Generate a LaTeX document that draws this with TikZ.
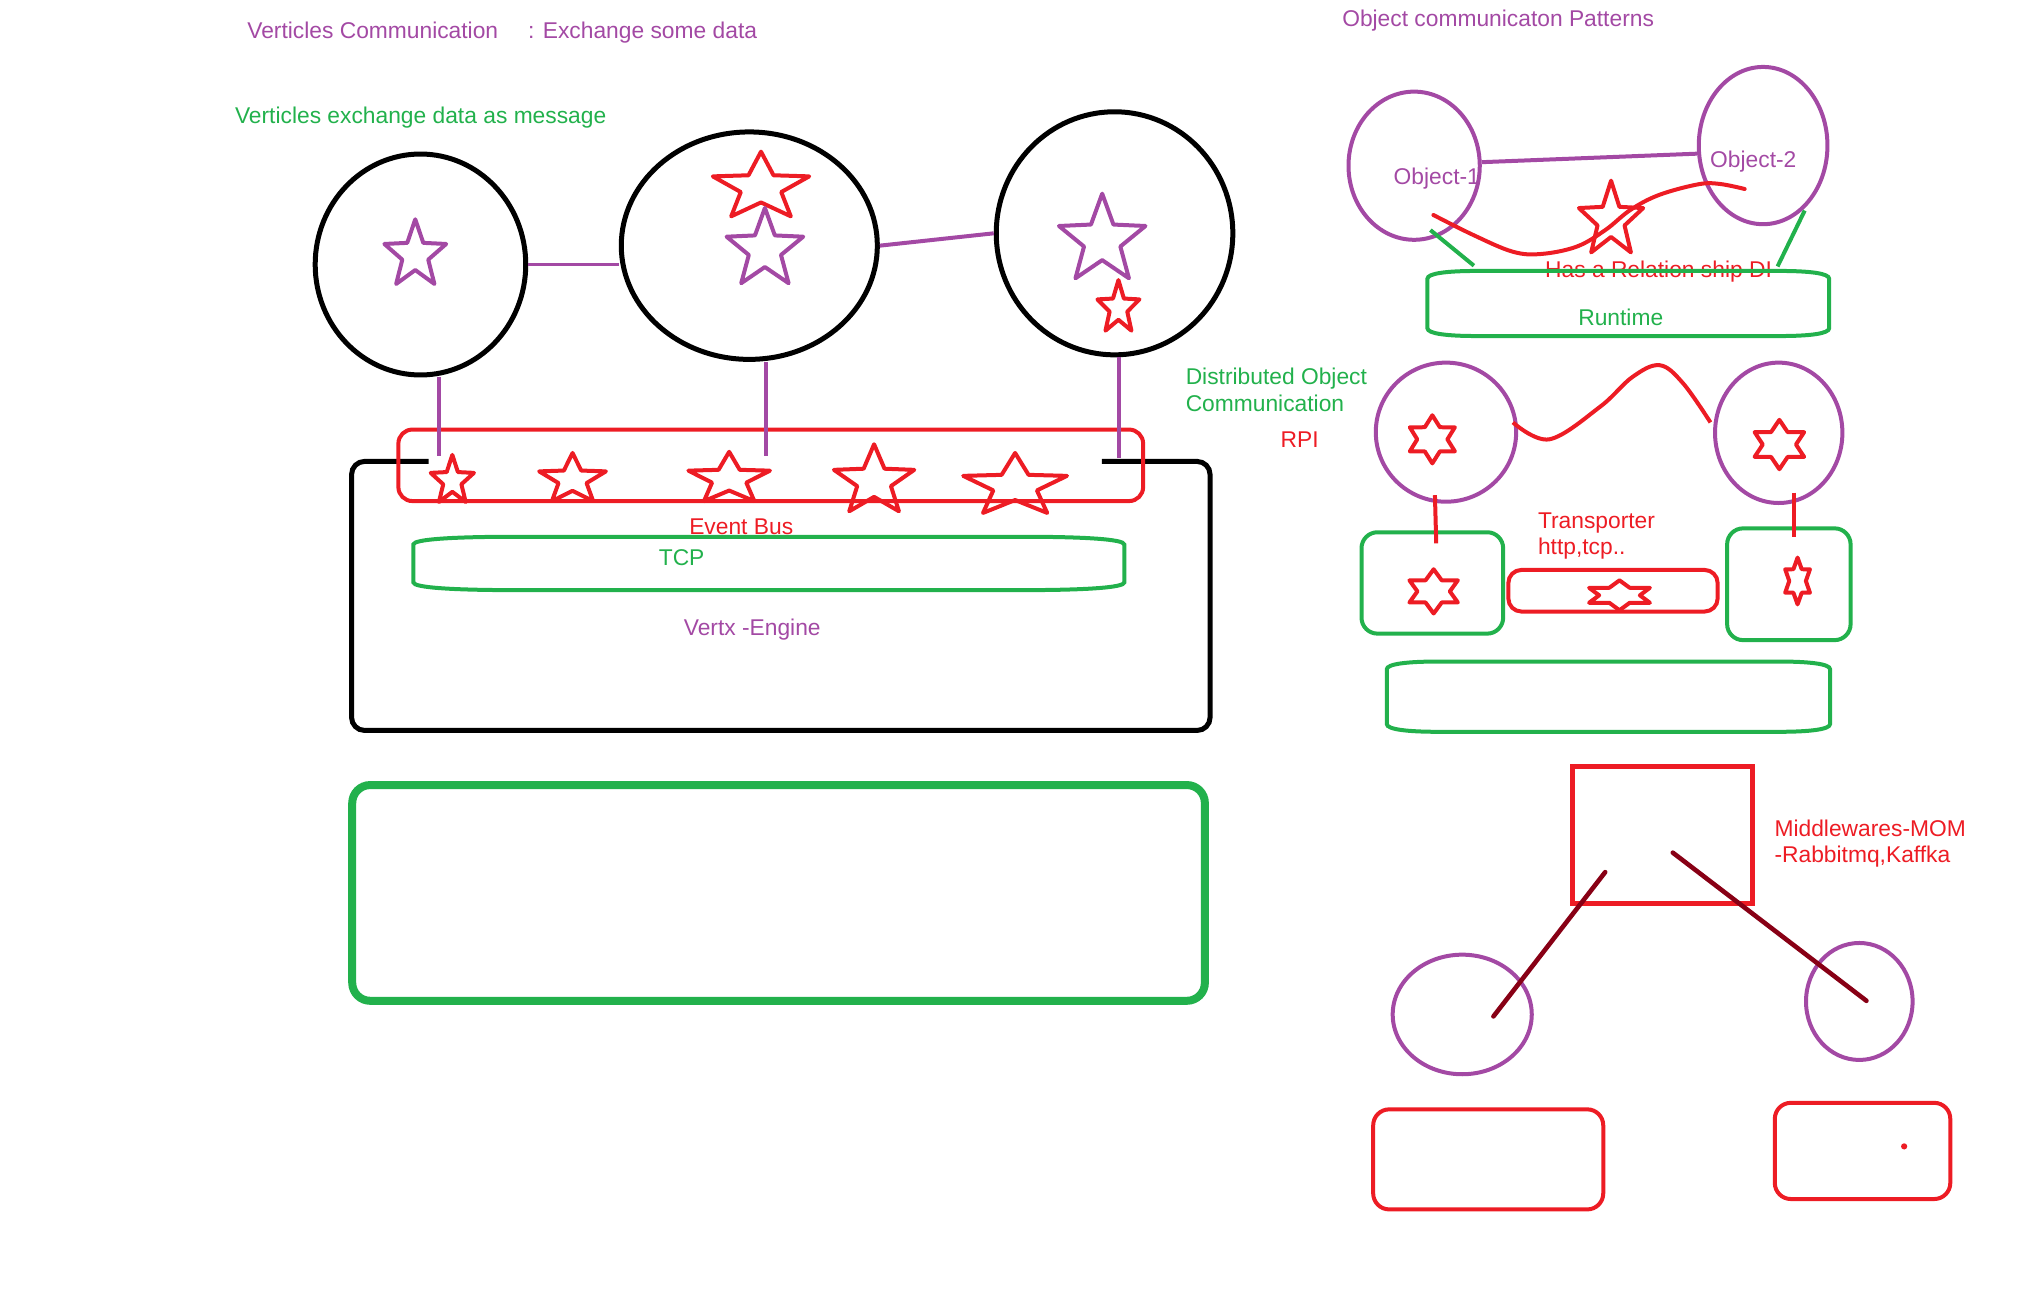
\documentclass[tikz,border=0pt]{standalone}
\usepackage{fontspec}
\setmainfont{Liberation Sans}
\usetikzlibrary{shapes.geometric,calc}
\definecolor{vpurple}{HTML}{A349A4}
\definecolor{vred}{HTML}{ED1C24}
\definecolor{vgreen}{HTML}{22B14C}
\definecolor{vdark}{HTML}{880015}
\newcommand\fivestar[5]{\draw[#5,line width=2pt,line join=round,shift={(#1,#2)},xscale=#3,yscale=#4] (-90:1) -- (-54:.42) -- (-18:1) -- (18:.42) -- (54:1) -- (90:.42) -- (126:1) -- (162:.42) -- (198:1) -- (234:.42) -- cycle;}
\newcommand\sixstar[5]{\draw[#5,line width=2pt,line join=round,shift={(#1,#2)},xscale=#3,yscale=#4] (-90:1) -- (-60:.58) -- (-30:1) -- (0:.58) -- (30:1) -- (60:.58) -- (90:1) -- (120:.58) -- (150:1) -- (180:.58) -- (210:1) -- (240:.58) -- cycle;}
% barrel-like outline around a (not drawn) rectangle node
\newcommand\barrel[4]{\draw[#4] (#1.west) -- ($(#1.north west)+(0,#3)$) .. controls ($(#1.north west)+(0,0.3*#3)$) and ($(#1.north west)+(0.4*#2,0)$) .. ($(#1.north west)+(#2,0)$) -- ($(#1.north east)+(-#2,0)$) .. controls ($(#1.north east)+(-0.4*#2,0)$) and ($(#1.north east)+(0,0.3*#3)$) .. ($(#1.north east)+(0,#3)$) -- ($(#1.south east)+(0,-#3)$) .. controls ($(#1.south east)+(0,-0.3*#3)$) and ($(#1.south east)+(-0.4*#2,0)$) .. ($(#1.south east)+(-#2,0)$) -- ($(#1.south west)+(#2,0)$) .. controls ($(#1.south west)+(0.4*#2,0)$) and ($(#1.south west)+(0,-0.3*#3)$) .. ($(#1.south west)+(0,-#3)$) -- cycle;}
\begin{document}
\begin{tikzpicture}[x=0.65pt,y=-0.65pt,
  ov/.style 2 args={ellipse, minimum width=#1*0.65pt, minimum height=#2*0.65pt, inner sep=0pt, line width=2pt},
  bx/.style 2 args={rectangle, minimum width=#1*0.65pt, minimum height=#2*0.65pt, inner sep=0pt, line width=2pt},
  lab/.style={inner sep=0pt, anchor=west, text height=8.2pt, text depth=0pt, font=\fontsize{11.4}{13}\selectfont},
  pline/.style={draw=vpurple, line width=2pt},
  rline/.style={draw=vred, line width=2pt},
  gline/.style={draw=vgreen, line width=2pt},
  dline/.style={draw=vdark, line width=2.3pt, line cap=round}]
\useasboundingbox (0,0) rectangle (1568,1002);

% ---------- titles ----------
\node[lab, text=vpurple] (t1) at (190,23.6) {Verticles Communication};
\node[lab, text=vpurple] (t2) at (406,23.6) {: Exchange some data};
\node[lab, text=vgreen] (t3) at (180.5,88.5) {Verticles exchange data as message};
\node[lab, text=vpurple] (t4) at (1032.4,14.1) {Object communicaton Patterns};

% ---------- left: verticles ----------
\node[ov={162}{170}, draw=black, line width=2.5pt] (A) at (323.5,203.5) {};
\node[ov={197}{175}, draw=black, line width=2.5pt] (B) at (576.5,189) {};
\node[ov={182}{187}, draw=black, line width=2.5pt] (C) at (857.5,179.5) {};
\draw[pline] (A.east) -- (A.east -| B.west);
\draw[pline] (B.east) -- (C.west);

\fivestar{319.5}{196.2}{25}{27.5}{vpurple}
\fivestar{585.5}{144.2}{39}{27.5}{vred}
\fivestar{588.5}{192}{31}{32}{vpurple}
\fivestar{848}{185}{35}{36}{vpurple}
\fivestar{860.5}{237}{17}{21.5}{vred}

% Vertx engine frame (top edge broken by the bus)
\draw[black, line width=2.5pt, rounded corners=6.5pt] (329.7,355) -- (270.5,355) -- (270.5,562) -- (931,562) -- (931,355) -- (847.8,355);

% event bus
\node[bx={573}{55}, draw=vred, rounded corners=7pt] (bus) at (593,358) {};
\coordinate (a1) at (338,351);
\coordinate (b1) at (589,351);
\coordinate (c1) at (861,352);
\draw[pline] (A.south -| a1) -- (a1);
\draw[pline] (B.south -| b1) -- (b1);
\draw[pline] (C.south -| c1) -- (c1);

\fivestar{348}{370}{17.5}{20}{vred}
\fivestar{440.5}{369}{27}{20.5}{vred}
\fivestar{561}{368.6}{33}{21}{vred}
\fivestar{672.5}{370.3}{32.5}{28.5}{vred}
\fivestar{781}{374}{42}{25.5}{vred}

\node[lab, text=vred] (eb) at (530,404.7) {Event Bus};
\node[bx={544}{38}] (tcp) at (591.5,433.5) {};
\barrel{tcp}{80}{6}{vgreen, line width=2pt}
\node[lab, text=vgreen] (tcpl) at (506.6,428.7) {TCP};
\node[lab, text=vpurple] (eng) at (525.8,483) {Vertx -Engine};

\node[bx={656}{166}, draw=vgreen, line width=4pt, rounded corners=9pt] (big) at (599,687) {};

% ---------- right top: object communication ----------
\node[ov={101}{114}, draw=vpurple] (O1) at (1088,127.5) {};
\node[ov={99}{121}, draw=vpurple] (O2) at (1356.5,112) {};
\draw[pline] (O1.3) -- (O2.187);
\node[lab, text=vpurple] (o1l) at (1072,136) {Object-1};
\node[lab, text=vpurple] (o2l) at (1315.5,122.6) {Object-2};

\draw[rline, line cap=round] plot[smooth, tension=0.6] coordinates {(1102.8,165.4) (1133.5,180.8) (1163.7,193.6) (1185.7,195.4) (1213.2,189.7) (1235.2,176.9) (1254.4,161.5) (1276.4,150) (1306.6,141.8) (1323,141.5) (1342.3,145.4)};
\fivestar{1239.5}{169.5}{26}{30.5}{vred}

\node[lab, text=vred] (rel) at (1188.5,207) {Has a Relation ship DI};
\node[bx={306}{47}] (rt) at (1252.75,233.5) {};
\barrel{rt}{38}{6}{vgreen, line width=2pt}
\node[lab, text=vgreen] (rtl) at (1214,244) {Runtime};
\coordinate (g1a) at (1100.5,177);
\coordinate (g1b) at (1134,204.4);
\coordinate (g2a) at (1388.5,162);
\coordinate (g2b) at (1367.6,205);
\draw[gline] (g1a) -- (g1b);
\draw[gline] (g2a) -- (g2b);

% ---------- right middle: distributed objects ----------
\node[lab, text=vgreen] (d1) at (912,289.7) {Distributed Object};
\node[lab, text=vgreen] (d2) at (912,310) {Communication};
\node[lab, text=vred] (rpi) at (985,337.7) {RPI};

\node[ov={108}{107}, draw=vpurple] (P1) at (1112.5,332.5) {};
\node[ov={98}{108}, draw=vpurple] (P2) at (1368.5,333) {};
\sixstar{1102}{338}{20}{18.5}{vred}
\sixstar{1369}{342}{22}{19}{vred}
\draw[rline] plot[smooth, tension=0.6] coordinates {(1164,325) (1192,338) (1231,313) (1256,290) (1277,281) (1295,295) (1316,325)};

\node[bx={109}{78}, draw=vgreen, rounded corners=8pt] (GB1) at (1102,448.5) {};
\node[bx={95}{86}, draw=vgreen, rounded corners=8pt] (GB2) at (1376.3,449.5) {};
\node[bx={161}{32}, draw=vred, rounded corners=6.5pt] (TR) at (1241,454.5) {};
\coordinate (r1a) at (1104,381);
\coordinate (r1b) at (1105,418);
\coordinate (r2a) at (1380,379);
\coordinate (r2b) at (1380,413);
\draw[rline] (r1a) -- (r1b);
\draw[rline] (r2a) -- (r2b);
\sixstar{1103}{455}{21.5}{17}{vred}
\sixstar{1383}{447}{11}{18}{vred}
\sixstar{1246}{458}{27}{11.5}{vred}
\node[lab, text=vred] (tr1) at (1183,400) {Transporter};
\node[lab, text=vred] (tr2) at (1183,420.5) {http,tcp..};

\node[bx={338}{51}] (GB3) at (1237.5,536) {};
\barrel{GB3}{40}{6}{vgreen, line width=2pt}

% ---------- right bottom: middleware ----------
\node[bx={139}{106}, draw=vred, line width=2.5pt] (MW) at (1279,642.5) {};
\node[lab, text=vred] (mw1) at (1365,637) {Middlewares-MOM};
\node[lab, text=vred] (mw2) at (1365,657) {-Rabbitmq,Kaffka};
\node[ov={107}{92}, draw=vpurple] (Q1) at (1125,780.5) {};
\node[ov={82}{90}, draw=vpurple] (Q2) at (1430.5,770.5) {};
\coordinate (m1a) at (1235,671);
\coordinate (m1b) at (1149,782);
\coordinate (m2a) at (1287,656);
\coordinate (m2b) at (1436,770);
\draw[dline] (m1a) -- (m1b);
\draw[dline] (m2a) -- (m2b);
\node[bx={177}{77}, draw=vred, rounded corners=8pt] (R1) at (1145,892) {};
\node[bx={135}{74}, draw=vred, rounded corners=8pt] (R2) at (1433,885.5) {};
\fill[vred] (1465,882) circle[radius=2.4];
\end{tikzpicture}
\end{document}
